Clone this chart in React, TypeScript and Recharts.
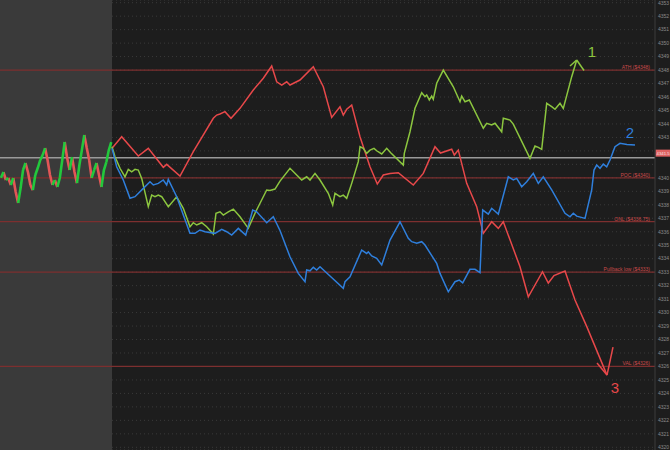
import React from "react";
import {
  CartesianGrid,
  ComposedChart,
  Line,
  ReferenceArea,
  ReferenceDot,
  ReferenceLine,
  XAxis,
  YAxis,
} from "recharts";

// price range shown on the right axis
const Y_MIN = 4319.8;
const Y_MAX = 4353.2;
const priceTicks = [
  4320, 4321, 4322, 4323, 4324, 4325, 4326, 4327, 4328, 4329, 4330, 4331, 4332, 4333, 4334, 4335,
  4336, 4337, 4338, 4339, 4340, 4341, 4342, 4343, 4344, 4345, 4346, 4347, 4348, 4349, 4350, 4351,
  4352, 4353,
];

// history before "now" (closes, oldest first)
const historyCloses = [
  4340.0, 4340.43, 4339.84, 4339.99, 4339.47, 4339.99, 4338.95, 4338.13, 4339.24, 4340.58, 4341.1,
  4340.43, 4339.47, 4339.09, 4340.21, 4340.73, 4341.32, 4341.69, 4342.21, 4341.32, 4340.21, 4339.47,
  4339.84, 4339.32, 4339.99, 4341.32, 4342.66, 4341.47, 4340.58, 4341.54, 4340.43, 4339.61, 4340.95,
  4342.06, 4343.18, 4342.21, 4341.32, 4339.99, 4340.58, 4341.1, 4340.21, 4339.32, 4340.58, 4341.17,
  4342.06, 4342.66,
];
const historyStep = 2.45;
const nowTime = 112;

// scenario paths: [time, price]
const redPath: [number, number][] = [
  [112, 4342.19], [121.7, 4343.05], [138.3, 4341.62], [148.3, 4342.19], [163.3, 4340.78],
  [166.7, 4341.0], [180, 4340.13], [193.3, 4341.94], [213.3, 4344.42], [216.7, 4344.66],
  [220, 4344.74], [225, 4344.91], [231, 4344.42], [240, 4345.16], [253.3, 4346.52],
  [263.3, 4347.39], [271.7, 4348.3], [276.7, 4347.13], [281.7, 4346.89], [286.7, 4347.13],
  [290, 4346.89], [300, 4347.26], [313.3, 4348.25], [323.3, 4346.76], [331.7, 4344.49],
  [340, 4345.28], [343.3, 4344.66], [346.7, 4345.09], [351.7, 4345.4], [360, 4343.05],
  [370, 4340.82], [377.3, 4339.54], [383.3, 4340.21], [390, 4340.33], [398.3, 4340.38],
  [413.3, 4339.47], [423.3, 4340.33], [435, 4342.31], [440.5, 4341.84], [451.7, 4342.12],
  [454.3, 4341.69], [458.3, 4342.06], [466.7, 4339.59], [476.7, 4337.86], [483.3, 4335.88],
  [491.7, 4336.74], [498.3, 4336.25], [503.3, 4336.74], [520, 4333.4], [528.3, 4331.17],
  [542.5, 4333.03], [548.3, 4332.19], [554, 4332.75], [565, 4333.08], [575, 4330.93],
  [587, 4328.92], [607, 4325.36],
];

const greenPath: [number, number][] = [
  [112, 4342.31], [115, 4341.57], [120, 4340.71], [125, 4340.08], [128.3, 4340.63],
  [131.7, 4340.45], [135, 4340.63], [138.3, 4340.58], [141.7, 4339.96], [148.3, 4337.86],
  [151.7, 4338.72], [155, 4338.6], [158.3, 4338.72], [161.7, 4338.6], [168.3, 4337.86],
  [176.7, 4338.6], [183.3, 4337.74], [190, 4336.37], [193.3, 4336.67], [196.7, 4336.5],
  [201.7, 4336.67], [206.7, 4336.37], [213.3, 4335.83], [216, 4337.37], [220, 4337.48],
  [223.3, 4337.24], [228.3, 4337.48], [233.3, 4337.68], [240, 4337.11], [248.3, 4336.25],
  [255, 4337.37], [266.7, 4339.1], [270, 4339.06], [275, 4339.17], [280, 4339.76],
  [290, 4340.71], [301.7, 4339.84], [306.7, 4340.08], [310, 4339.84], [315, 4340.33],
  [320, 4339.84], [328.3, 4338.85], [332.7, 4337.98], [335, 4338.85], [340, 4338.6],
  [343.3, 4338.72], [346.7, 4338.48], [351.7, 4339.59], [358.3, 4341.2], [360, 4342.31],
  [363.3, 4342.19], [366.7, 4341.82], [370, 4342.06], [374, 4342.19], [376.7, 4342.01],
  [381.7, 4341.77], [386.7, 4342.19], [390.7, 4341.86], [403.3, 4340.95], [404.3, 4341.82],
  [410, 4343.42], [415, 4345.16], [421.7, 4346.32], [425, 4346.02], [426.7, 4346.15],
  [429.3, 4345.78], [431.7, 4346.07], [433.3, 4345.83], [436.7, 4347.02], [443.3, 4348.0],
  [453.3, 4346.76], [460, 4345.65], [461.7, 4346.07], [465, 4345.65], [469.3, 4345.78],
  [483.3, 4343.68], [486.7, 4344.05], [491.7, 4343.92], [495, 4344.05], [501.7, 4343.42],
  [503.3, 4344.42], [510, 4344.29], [513.3, 4343.99], [530, 4341.45], [535, 4342.36],
  [538.3, 4342.26], [541.7, 4342.12], [546.7, 4345.53], [551.7, 4345.28], [555, 4345.09],
  [560, 4345.53], [563.3, 4345.16], [571.7, 4347.51], [576.7, 4348.75],
];

const bluePath: [number, number][] = [
  [112, 4342.19], [116.7, 4340.82], [123.3, 4339.84], [130, 4338.48], [135, 4338.6],
  [143.3, 4339.22], [150, 4339.71], [153.3, 4339.47], [158.3, 4339.59], [163.3, 4339.84],
  [166.7, 4339.47], [168.3, 4339.89], [176.7, 4338.6], [190, 4335.88], [195, 4335.88],
  [200, 4336.13], [205, 4336.0], [215, 4335.88], [221.7, 4336.18], [226.7, 4336.0],
  [231.7, 4335.75], [238.3, 4336.25], [245.7, 4335.75], [252.7, 4337.61], [256.7, 4337.48],
  [266.7, 4336.67], [273.3, 4337.11], [280, 4336.09], [290, 4334.14], [298.3, 4332.91],
  [305, 4332.29], [306.7, 4333.16], [310, 4333.1], [313.3, 4333.36], [316.7, 4333.16],
  [320, 4333.4], [330, 4332.71], [343.3, 4331.8], [345, 4332.29], [350, 4332.66],
  [361.7, 4334.64], [366.7, 4334.39], [368.3, 4334.51], [371.7, 4334.2], [376.7, 4334.02],
  [381.7, 4333.53], [390, 4335.38], [400, 4336.74], [408.3, 4335.51], [411.7, 4335.26],
  [416.7, 4335.14], [421.7, 4335.26], [425, 4335.01], [436.7, 4333.65], [440, 4332.91],
  [448.3, 4331.54], [455, 4332.29], [459.3, 4332.41], [462.7, 4332.21], [470, 4333.21],
  [475, 4333.21], [480, 4332.96], [482.7, 4337.61], [488.3, 4337.31], [491.7, 4337.74],
  [498.3, 4337.31], [508.3, 4340.08], [513.3, 4339.84], [516.7, 4339.96], [521.7, 4339.34],
  [526.7, 4339.71], [533.3, 4340.33], [538.3, 4339.59], [543.3, 4340.08], [551.7, 4339.1],
  [565, 4337.37], [570, 4337.11], [573.3, 4337.37], [576.7, 4337.16], [585, 4336.99],
  [591.7, 4339.1], [594, 4340.58], [596.7, 4340.95], [600, 4340.71], [603.3, 4341.02],
  [606.7, 4340.82], [610, 4341.32], [615, 4342.31], [620, 4342.56], [627, 4342.47],
  [635, 4342.44],
];

// key levels
const levelNames = ["ATH ($4348)", "POC ($4340)", "ONL ($4336.75)", "Pullback low ($4333)", "VAL ($4326)"];
const levelPrices = [4348, 4340, 4336.75, 4333, 4326];
const lastPrice = 4341.5;
const lastPriceText = "4341.5";

// hand drawn marks: arrow strokes and scenario numbers
const greenArrow: [number, number][][] = [
  [[570, 4348.3], [576.7, 4348.75]],
  [[576.7, 4348.75], [584, 4347.97]],
];
const redArrow: [number, number][][] = [
  [[597, 4326.25], [607, 4325.36]],
  [[607, 4325.36], [613, 4327.44]],
];
const scenarioNames = ["1", "2", "3"];
const scenarioTimes = [592, 630, 615];
const scenarioPrices = [4349.34, 4343.33, 4324.4];

const RED = "#e8484a";
const GREEN = "#8cc63f";
const BLUE = "#2f7fdc";
const LEVEL = "#7d2f2f";
const scenarioColors = [GREEN, BLUE, RED];

const toRows = (path: [number, number][]) => path.map(([t, p]) => ({ t, p }));

// split the history into rising and falling pieces so each gets its own colour
const upRows: { t: number; p: number | null }[] = [];
const downRows: { t: number; p: number | null }[] = [];
historyCloses.forEach((close, i) => {
  if (i === 0) return;
  const prev = historyCloses[i - 1];
  const rows = close >= prev ? upRows : downRows;
  const t0 = 1 + (i - 1) * historyStep;
  const t1 = 1 + i * historyStep;
  rows.push({ t: t0, p: prev }, { t: t1, p: close }, { t: t1 + 0.01, p: null });
});

function PriceBox(props: any) {
  const { viewBox } = props;
  const x = viewBox.x + viewBox.width;
  const y = viewBox.y;
  return (
    <g>
      <rect x={x + 0.5} y={y - 8} width={14.5} height={7} fill="#e06262" />
      <text x={x + 1.5} y={y - 2.8} fontSize={4.3} fill="#f3e0e0">
        {lastPriceText}
      </text>
    </g>
  );
}

function PriceTick(props: any) {
  const { x, y, payload } = props;
  // the last-price box sits over this tick
  if (Math.abs(payload.value - lastPrice) < 0.6) return null;
  return (
    <text x={x} y={y} dy={1.8} fontSize={5} fill="#8a8a8a" textAnchor="start">
      {payload.value}
    </text>
  );
}

export default function App() {
  return (
    <div style={{ position: "fixed", left: 0, top: 0, width: 670, height: 450, background: "#1d1d1d" }}>
      <ComposedChart
        width={670}
        height={450}
        margin={{ top: 0, right: 0, bottom: 0, left: 0 }}
        style={{ fontFamily: "'Liberation Sans', Arial, sans-serif" }}
      >
        <ReferenceArea x1={0} x2={nowTime} y1={Y_MIN} y2={Y_MAX} fill="#3a3a3a" fillOpacity={1} stroke="none" />
        <CartesianGrid vertical={false} stroke="#3a3a3a" strokeDasharray="1 3" />
        <XAxis type="number" dataKey="t" domain={[0, 655]} hide allowDataOverflow />
        <YAxis
          orientation="right"
          width={15}
          domain={[Y_MIN, Y_MAX]}
          ticks={priceTicks}
          allowDataOverflow
          tickLine={false}
          tickSize={2}
          tickMargin={1}
          axisLine={{ stroke: "#3c3c3c" }}
          tick={<PriceTick />}
          interval={0}
        />
        {levelPrices.map((p, i) => (
          <ReferenceLine
            key={levelNames[i]}
            y={p}
            stroke={LEVEL}
            strokeWidth={1.2}
            label={{
              value: levelNames[i],
              position: "insideBottomRight",
              offset: 1,
              dx: -4,
              fill: "#c94a4a",
              fontSize: 5,
            }}
          />
        ))}
        <ReferenceLine y={lastPrice} stroke="#9a9a9a" strokeWidth={1.5} label={<PriceBox />} />
        <Line data={downRows} dataKey="p" stroke="#e35656" strokeWidth={2.6} dot={false} activeDot={false} isAnimationActive={false} />
        <Line data={upRows} dataKey="p" stroke="#22c83c" strokeWidth={2.6} dot={false} activeDot={false} isAnimationActive={false} />
        <Line data={toRows(redPath)} dataKey="p" stroke={RED} strokeWidth={1.5} dot={false} activeDot={false} isAnimationActive={false} />
        <Line data={toRows(greenPath)} dataKey="p" stroke={GREEN} strokeWidth={1.5} dot={false} activeDot={false} isAnimationActive={false} />
        <Line data={toRows(bluePath)} dataKey="p" stroke={BLUE} strokeWidth={1.5} dot={false} activeDot={false} isAnimationActive={false} />
        {greenArrow.map((s, i) => (
          <ReferenceLine
            key={"g" + i}
            segment={[{ x: s[0][0], y: s[0][1] }, { x: s[1][0], y: s[1][1] }]}
            stroke={GREEN}
            strokeWidth={1.5}
            ifOverflow="visible"
          />
        ))}
        {redArrow.map((s, i) => (
          <ReferenceLine
            key={"r" + i}
            segment={[{ x: s[0][0], y: s[0][1] }, { x: s[1][0], y: s[1][1] }]}
            stroke={RED}
            strokeWidth={1.5}
            ifOverflow="visible"
          />
        ))}
        {scenarioNames.map((n, i) => (
          <ReferenceDot
            key={n}
            x={scenarioTimes[i]}
            y={scenarioPrices[i]}
            r={0}
            stroke="none"
            ifOverflow="visible"
            label={{ value: n, position: "center", fill: scenarioColors[i], fontSize: 15 }}
          />
        ))}
      </ComposedChart>
    </div>
  );
}
